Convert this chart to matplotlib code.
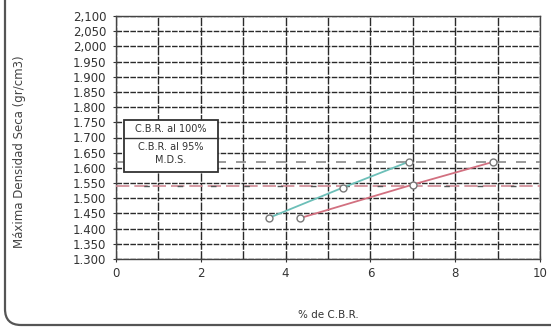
import numpy as np
import matplotlib
matplotlib.use("Agg")
import matplotlib.pyplot as plt
from matplotlib.patches import FancyBboxPatch, Rectangle
from matplotlib.transforms import IdentityTransform

# datos
cbr_a = [3.6, 5.35, 6.9]          # curva verde
dens_a = [1.435, 1.535, 1.620]
cbr_b = [4.35, 7.0, 8.9]          # curva roja
dens_b = [1.435, 1.545, 1.620]
mds = 1.620
mds_95 = 1.539

y_ticks = [2.100, 2.050, 2.000, 1.950, 1.900, 1.850, 1.800, 1.750, 1.700,
           1.650, 1.600, 1.550, 1.500, 1.450, 1.400, 1.350, 1.300]
y_labels = ["2,100", "2,050", "2,000", "1.950", "1.900", "1.850", "1.800",
            "1.750", "1.700", "1.650", "1.600", "1.550", "1.500", "1.450",
            "1.400", "1.350", "1.300"]
x_ticks = [0, 2, 4, 6, 8, 10]
legend_rows = ["C.B.R. al 100%", "C.B.R. al 95%", "M.D.S."]

plt.rcParams['font.family'] = ['DejaVu Sans']

fig = plt.figure(figsize=(5.51, 3.31), dpi=100)
ax = fig.add_axes([116/551, 1 - 259/331, 424/551, 243/331])

# marco redondeado de la hoja (en pixeles)
frame = FancyBboxPatch((5, 6), 800, 600,
                       boxstyle="round,pad=0,rounding_size=16",
                       transform=IdentityTransform(), fill=False,
                       edgecolor="#555555", lw=1.6, clip_on=False)
fig.patches.append(frame)

ax.set_xlim(0, 10)
ax.set_ylim(1.300, 2.100)
ax.set_xticks(np.arange(0, 11, 1), minor=True)
ax.set_xticks(x_ticks)
ax.set_xticklabels([str(t) for t in x_ticks], fontsize=8.5, color="#333333")
ax.set_yticks(y_ticks)
ax.set_yticklabels(y_labels, fontsize=8.5, color="#333333")
ax.tick_params(axis="both", length=4, color="#333333", direction="inout")
ax.tick_params(axis="y", pad=5)
ax.tick_params(axis="x", which="minor", length=0)

ax.grid(True, axis="y", color="#2a2a2a", lw=1.0, ls=(0, (4, 1)))
ax.grid(True, axis="x", which="both", color="#2a2a2a", lw=1.0, ls=(0, (6, 1)))
for s in ax.spines.values():
    s.set_color("#444444")
    s.set_linewidth(1.0)

ax.axhline(mds, color="#8a8a8a", lw=1.2, ls=(0, (6, 6)), zorder=3)
ax.axhline(mds_95, color="#d08a95", lw=1.2, ls=(0, (8, 3)), zorder=3)
ax.axhline(mds_95, color="#555555", lw=1.0, ls=(4, (4, 20)), zorder=3)

ax.plot(cbr_a, dens_a, color="#6cbfb8", lw=1.3, marker="o", ms=5,
        mfc="white", mec="#777777", zorder=4)
ax.plot(cbr_b, dens_b, color="#d27080", lw=1.3, marker="o", ms=5,
        mfc="white", mec="#777777", zorder=4)

# leyenda en caja
x0, x1 = 0.19, 2.40
yt, yb = 1.758, 1.587
ax.add_patch(Rectangle((x0, yb), x1 - x0, yt - yb, facecolor="white",
                       edgecolor="#333333", lw=1.3, zorder=5))
ax.plot([x0, x1], [1.700, 1.700], color="#333333", lw=1.0, zorder=6)
for txt, yy in zip(legend_rows, [1.729, 1.670, 1.625]):
    ax.text((x0 + x1) / 2, yy, txt, ha="center", va="center", fontsize=7,
            color="#333333", zorder=7)

ax.set_xlabel("% de C.B.R.", fontsize=7.5, color="#333333", labelpad=22)
fig.text(20/551, 1 - 152/331, "Máxima Densidad Seca (gr/cm3)", rotation=90,
         ha="center", va="center", fontsize=8.5, color="#444444")

fig.savefig("out.png", dpi=100)
